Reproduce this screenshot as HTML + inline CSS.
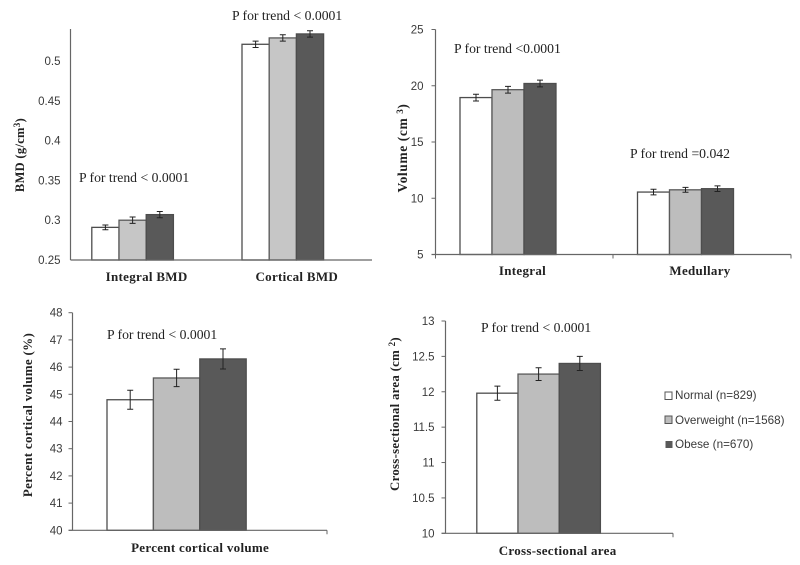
<!DOCTYPE html>
<html lang="en">
<head>
<meta charset="utf-8">
<title>Bone measures by BMI group</title>
<style>
html,body{margin:0;padding:0;background:#fff;}
svg{display:block;}
.tick{font-family:"Liberation Sans",sans-serif;font-size:11.5px;fill:#3a3a3a;}
.cat{font-family:"Liberation Serif",serif;font-weight:bold;font-size:13px;fill:#222;letter-spacing:.3px;}
.ann{font-family:"Liberation Serif",serif;font-size:13.7px;fill:#222;}
.ytitle{font-family:"Liberation Serif",serif;font-weight:bold;font-size:12.5px;fill:#222;letter-spacing:.3px;}
.leg{font-family:"Liberation Sans",sans-serif;font-size:11.7px;fill:#3a3a3a;}
</style>
</head>
<body>
<svg id="figure" width="800" height="565" viewBox="0 0 800 565" xmlns="http://www.w3.org/2000/svg">
  <rect width="800" height="565" fill="#fff"/>
  <g id="marks" style="filter:blur(0.3px)"></g>
  <g style="filter:blur(0.25px)">
    <text class="ann" x="79" y="182">P for trend &lt; 0.0001</text>
    <text class="ann" x="232" y="20">P for trend &lt; 0.0001</text>
    <text class="ann" x="454" y="53">P for trend &lt;0.0001</text>
    <text class="ann" x="630" y="158">P for trend =0.042</text>
    <text class="ann" x="107" y="339">P for trend &lt; 0.0001</text>
    <text class="ann" x="481" y="332">P for trend &lt; 0.0001</text>

    <text class="ytitle" transform="translate(24,155) rotate(-90)" text-anchor="middle">BMD (g/cm<tspan dy="-4" font-size="9">3</tspan><tspan dy="4">)</tspan></text>
    <text class="ytitle" style="font-size:13.5px;letter-spacing:.6px" transform="translate(407,148) rotate(-90)" text-anchor="middle">Volume (cm <tspan dy="-4" font-size="9">3</tspan><tspan dy="4">)</tspan></text>
    <text class="ytitle" style="font-size:13px" transform="translate(32,415) rotate(-90)" text-anchor="middle">Percent cortical volume (%)</text>
    <text class="ytitle" style="font-size:12.8px" transform="translate(399,414) rotate(-90)" text-anchor="middle">Cross-sectional area (cm <tspan dy="-4" font-size="9">2</tspan><tspan dy="4">)</tspan></text>

    <g>
      <rect x="665" y="392" width="7" height="7.5" fill="#fff" stroke="#555"/>
      <text class="leg" x="675" y="399">Normal (n=829)</text>
      <rect x="665" y="416" width="7" height="7.5" fill="#bdbdbd" stroke="#555"/>
      <text class="leg" x="675" y="424">Overweight (n=1568)</text>
      <rect x="665.5" y="441" width="7" height="7" fill="#595959"/>
      <text class="leg" x="675" y="448">Obese (n=670)</text>
    </g>
  </g>
</svg>
<script>
// Chart A: bone mineral density
const bmdCategories = ['Integral BMD', 'Cortical BMD'];
const bmdNormal = [0.291, 0.521];
const bmdOverweight = [0.300, 0.529];
const bmdObese = [0.307, 0.534];
const bmdErrNormal = [0.003, 0.004];
const bmdErrOverweight = [0.004, 0.004];
const bmdErrObese = [0.004, 0.004];
const bmdTicks = ['0.25', '0.3', '0.35', '0.4', '0.45', '0.5'];

// Chart B: volume
const volCategories = ['Integral', 'Medullary'];
const volNormal = [18.95, 10.55];
const volOverweight = [19.65, 10.75];
const volObese = [20.2, 10.85];
const volErrNormal = [0.3, 0.25];
const volErrOverweight = [0.3, 0.22];
const volErrObese = [0.3, 0.25];
const volTicks = ['5', '10', '15', '20', '25'];

// Chart C: percent cortical volume
const pctCategories = ['Percent cortical volume'];
const pctNormal = [44.8];
const pctOverweight = [45.6];
const pctObese = [46.3];
const pctErrNormal = [0.35];
const pctErrOverweight = [0.32];
const pctErrObese = [0.37];
const pctTicks = ['40', '41', '42', '43', '44', '45', '46', '47', '48'];

// Chart D: cross-sectional area
const csaCategories = ['Cross-sectional area'];
const csaNormal = [11.98];
const csaOverweight = [12.25];
const csaObese = [12.4];
const csaErrNormal = [0.1];
const csaErrOverweight = [0.09];
const csaErrObese = [0.1];
const csaTicks = ['10', '10.5', '11', '11.5', '12', '12.5', '13'];

const NS = 'http://www.w3.org/2000/svg';
const root = document.getElementById('marks');

function shape(tag, attrs, parent) {
  const el = document.createElementNS(NS, tag);
  for (const k in attrs) el.setAttribute(k, attrs[k]);
  (parent || root).appendChild(el);
  return el;
}

function drawPanel(p) {
  const g = shape('g', {});
  
  

  const yMin = parseFloat(p.ticks[0]);
  const yMax = parseFloat(p.ticks[p.ticks.length - 1]);
  const y = v => p.yBase - (v - yMin) / (yMax - yMin) * (p.yBase - p.yTop);
  const groupLeft = i => p.firstBar + i * p.groupStep;
  const barX = (i, s) => groupLeft(i) + s * p.barW;

  const fills = ['#ffffff', p.lightFill, '#595959'];
  const strokes = ['#4d4d4d', '#5a5a5a', '#4d4d4d'];
  const seriesNames = ['normal', 'overweight', 'obese'];

  p.series.forEach((vals, s) => {
    vals.forEach((v, i) => {
      const bar = shape('rect', {
        x: barX(i, s), y: y(v), width: p.barW, height: p.yBase - y(v),
        fill: fills[s], stroke: strokes[s], 'stroke-width': 1.3
      }, g);
      
      
    });
  });

  p.series.forEach((vals, s) => {
    vals.forEach((v, i) => {
      const cx = barX(i, s) + p.barW / 2;
      const e = p.errors[s][i];
      const eb = shape('path', {
        d: 'M' + cx + ' ' + y(v + e) + 'V' + y(v - e) +
           'M' + (cx - 3) + ' ' + y(v + e) + 'H' + (cx + 3) +
           'M' + (cx - 3) + ' ' + y(v - e) + 'H' + (cx + 3),
        stroke: '#222', 'stroke-width': 1, fill: 'none'
      }, g);
      
      
    });
  });

  const yAxis = shape('line', {
    x1: p.xAxis, x2: p.xAxis, y1: p.axisTop, y2: p.yBase,
    stroke: '#666', 'stroke-width': 1.2
  }, g);
  
  

  const xAxis = shape('line', {
    x1: p.xAxis - p.tickLen, x2: p.xEnd, y1: p.yBase, y2: p.yBase,
    stroke: '#666', 'stroke-width': 1.2
  }, g);
  
  

  p.ticks.forEach(t => {
    const ty = y(parseFloat(t));
    if (p.tickLen > 0) {
      const m = shape('line', {
        x1: p.xAxis - p.tickLen, x2: p.xAxis, y1: ty, y2: ty,
        stroke: '#666', 'stroke-width': 1
      }, g);
      
      
    }
    const lab = shape('text', {
      x: p.xAxis - p.labelGap, y: ty + 4, 'text-anchor': 'end', class: 'tick'
    }, g);
    lab.textContent = t;
    
    
  });

  p.xTicks.forEach(tx => {
    const m = shape('line', {
      x1: tx, x2: tx, y1: p.yBase, y2: p.yBase + 4,
      stroke: '#666', 'stroke-width': 1
    }, g);
    
    
  });

  p.categories.forEach((c, i) => {
    const lab = shape('text', {
      x: barX(i, 1.5) + p.catShift, y: p.catY, 'text-anchor': 'middle', class: 'cat'
    }, g);
    lab.textContent = c;
    
    
  });
}

drawPanel({
  name: 'bmd', categories: bmdCategories, ticks: bmdTicks,
  series: [bmdNormal, bmdOverweight, bmdObese],
  errors: [bmdErrNormal, bmdErrOverweight, bmdErrObese],
  yBase: 260, yTop: 61, axisTop: 29, xAxis: 70.5, xEnd: 372, tickLen: 0, labelGap: 10,
  firstBar: 91.8, groupStep: 150.2, barW: 27.2, xTicks: [], catY: 281, catShift: 14, lightFill: '#c6c6c6'
});
drawPanel({
  name: 'volume', categories: volCategories, ticks: volTicks,
  series: [volNormal, volOverweight, volObese],
  errors: [volErrNormal, volErrOverweight, volErrObese],
  yBase: 254.5, yTop: 29.5, axisTop: 29.5, xAxis: 435.5, xEnd: 791, tickLen: 4, labelGap: 12,
  firstBar: 460, groupStep: 177.5, barW: 32, xTicks: [435.5, 613, 791], catY: 275, catShift: 14.5, lightFill: '#bdbdbd'
});
drawPanel({
  name: 'percent-cortical', categories: pctCategories, ticks: pctTicks,
  series: [pctNormal, pctOverweight, pctObese],
  errors: [pctErrNormal, pctErrOverweight, pctErrObese],
  yBase: 530.3, yTop: 312.7, axisTop: 312.7, xAxis: 72.5, xEnd: 327, tickLen: 4, labelGap: 10,
  firstBar: 107, groupStep: 0, barW: 46.4, xTicks: [327], catY: 552, catShift: 23.5, lightFill: '#bdbdbd'
});
drawPanel({
  name: 'cross-sectional', categories: csaCategories, ticks: csaTicks,
  series: [csaNormal, csaOverweight, csaObese],
  errors: [csaErrNormal, csaErrOverweight, csaErrObese],
  yBase: 533.3, yTop: 321, axisTop: 321, xAxis: 445.5, xEnd: 673, tickLen: 4, labelGap: 11,
  firstBar: 476.8, groupStep: 0, barW: 41.2, xTicks: [673], catY: 555, catShift: 19, lightFill: '#bdbdbd'
});
</script>
</body>
</html>
